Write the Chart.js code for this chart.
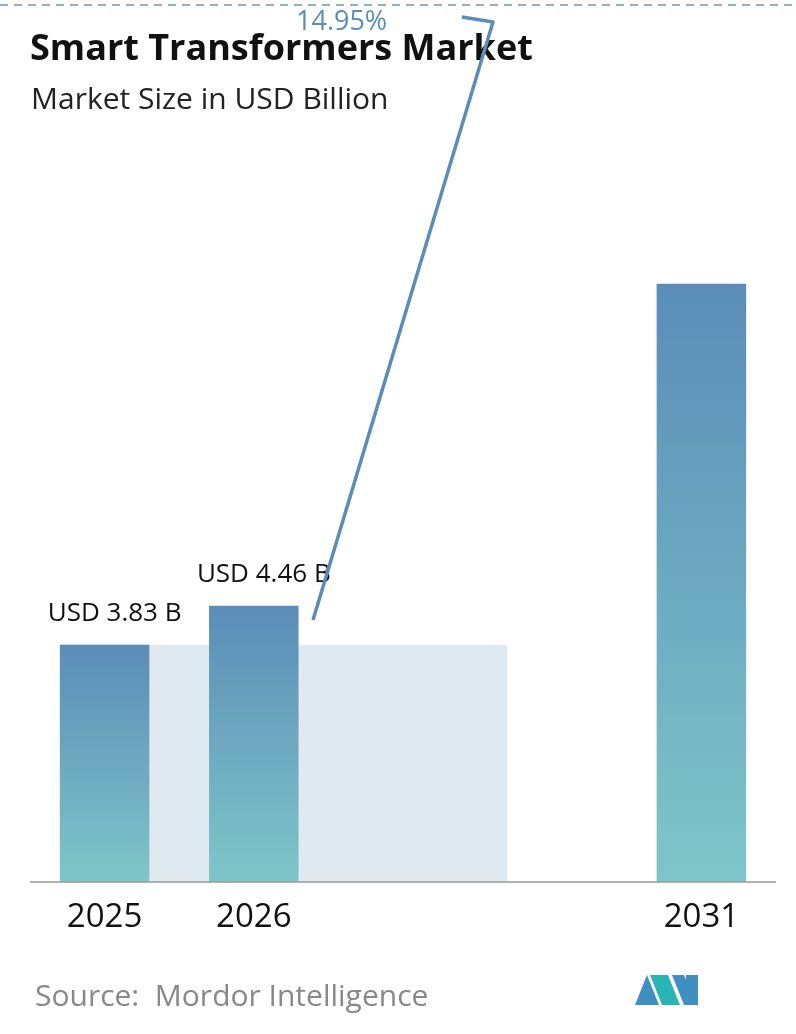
<!DOCTYPE html>
<html><head><meta charset="utf-8">
<script src="https://cdn.jsdelivr.net/npm/chart.js@4"></script>
<style>html,body{margin:0;padding:0;background:#fff}#w{position:relative;width:796px;height:1034px}</style>
</head><body><div id="w"><canvas id="c" width="796" height="1034"></canvas></div>
<script>
const categories = ["2025","2026","","","2031"];
const values = [3.83, 4.46, null, null, 9.66];
const valueLabels = ["USD 3.83 B","USD 4.46 B","","",""];
const cagrLabel = "14.95%";
const title = "Smart Transformers Market";
const subtitle = "Market Size in USD Billion";
const source = "Source:  Mordor Intelligence";
const F = "'Open Sans', sans-serif";

const deco = {
  id:'deco',
  beforeDatasetsDraw(ch){
    const c=ch.ctx,x=ch.scales.x,y=ch.scales.y;
    const bw=x.getPixelForValue(1)-x.getPixelForValue(0);
    const x0=x.getPixelForValue(0)-bw*0.3, x1=x.getPixelForValue(3)-bw*0.3;
    c.save();c.fillStyle='#e1e9f0';
    c.fillRect(x0,y.getPixelForValue(values[0]),x1-x0,y.getPixelForValue(0)-y.getPixelForValue(values[0]));
    c.restore();
  },
  afterDraw(ch){
    const c=ch.ctx,x=ch.scales.x,y=ch.scales.y;
    c.save();
    c.strokeStyle='#6f96b8';c.lineWidth=1.5;c.setLineDash([8,6]);
    c.beginPath();c.moveTo(0,5);c.lineTo(796,5);c.stroke();c.setLineDash([]);
    c.fillStyle='#111';c.textBaseline='alphabetic';c.textAlign='left';
    c.font='bold 36px '+F;c.fillText(title,30,60);
    c.font='30px '+F;c.fillStyle='#222';c.fillText(subtitle,31,109);
    const yb=y.getPixelForValue(0);
    c.strokeStyle='#999';c.lineWidth=1.5;c.beginPath();c.moveTo(30,yb);c.lineTo(776,yb);c.stroke();
    c.fillStyle='#111';c.textAlign='center';c.font='33px '+F;
    categories.forEach((t,i)=>{if(t)c.fillText(t,x.getPixelForValue(i),927);});
    c.font='26px '+F;
    values.forEach((v,i)=>{if(valueLabels[i])c.fillText(valueLabels[i],x.getPixelForValue(i)+10,y.getPixelForValue(v)-24);});
    c.strokeStyle='#5b8db8';c.lineWidth=3.5;c.lineJoin='round';
    c.beginPath();c.moveTo(313,620);c.lineTo(493,22);c.lineTo(462,17);c.stroke();
    c.fillStyle='#5b8db8';c.textAlign='left';c.font='27px '+F;c.fillText(cagrLabel,296,30);
    c.fillStyle='#888';c.font='30px '+F;c.fillText(source,35,1006);
    c.fillStyle='#3f8fc0';
    c.beginPath();c.moveTo(635,1005);c.lineTo(647,975);c.lineTo(659,1005);c.closePath();c.fill();
    c.fillStyle='#2ab5b5';
    c.beginPath();c.moveTo(650,975);c.lineTo(668,975);c.lineTo(680,1005);c.lineTo(662,1005);c.closePath();c.fill();
    c.fillStyle='#3f8fc0';
    c.beginPath();c.moveTo(672,975);c.lineTo(684,975);c.lineTo(696,1005);c.lineTo(684,1005);c.closePath();c.fill();
    c.fillRect(686,975,12,30);
    c.restore();
  }
};
new Chart(document.getElementById('c'),{
  type:'bar',
  data:{labels:categories,datasets:[{data:values,
    backgroundColor(ctx){const ch=ctx.chart,a=ch.chartArea;if(!a||ctx.raw==null)return'#6a9fc0';
      const top=ch.scales.y.getPixelForValue(ctx.raw);
      const g=ch.ctx.createLinearGradient(0,top,0,a.bottom);g.addColorStop(0,'#5b8db8');g.addColorStop(1,'#7ec6c9');return g;},
    barPercentage:0.6,categoryPercentage:1}]},
  options:{responsive:false,animation:false,devicePixelRatio:1,
    layout:{padding:{left:30,right:20,top:15,bottom:152}},
    plugins:{legend:{display:false},tooltip:{enabled:false}},
    scales:{x:{display:false},y:{display:false,min:0,max:14}}},
  plugins:[deco]
});
</script></body></html>
